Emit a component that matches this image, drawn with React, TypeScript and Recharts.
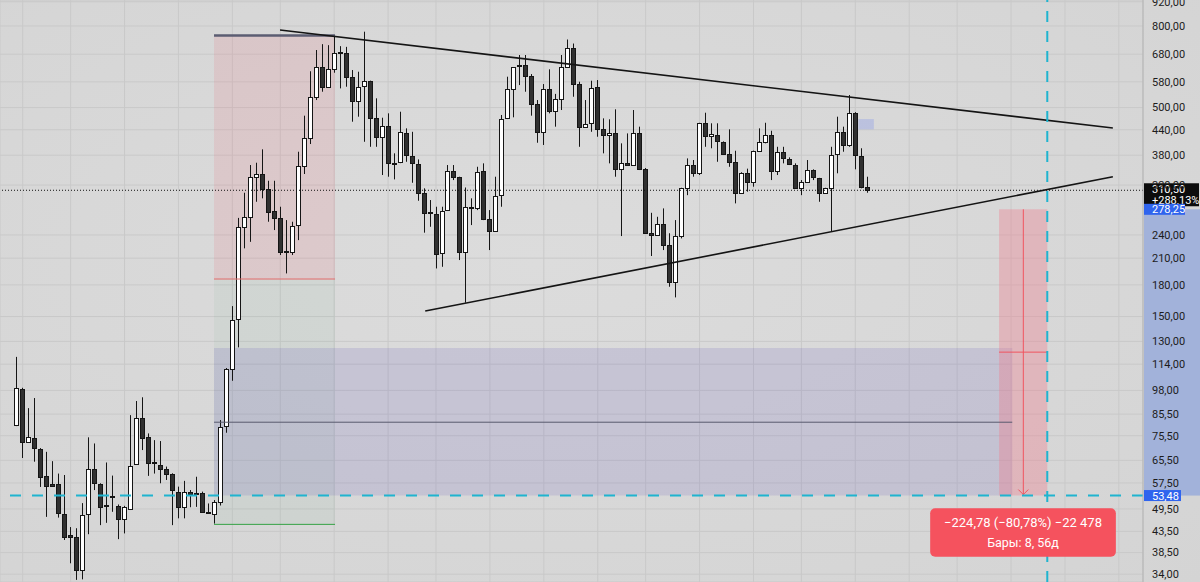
import {
  Bar,
  CartesianGrid,
  ComposedChart,
  ReferenceArea,
  ReferenceLine,
  XAxis,
  YAxis,
} from 'recharts'

// weekly candles
const opens = [
  80.3, 98.8, 73.0, 74.6, 69.9, 59.9, 57.1, 57.0, 48.1, 42.6, 42.0, 34.9, 48.1, 62.2, 57.1, 50.6, 53.2, 50.4, 46.7, 49.4,
  64.1, 83.4, 74.8, 64.8, 63.9, 62.5, 60.5, 54.7, 50.0, 54.7, 54.3, 54.2, 48.6, 48.0, 51.6, 79.8, 110.6, 147.6, 251.6, 266.5,
  335.7, 340.4, 312.2, 275.4, 265.0, 218.5, 217.8, 254.1, 357.0, 418.8, 532.2, 632.0, 563.9, 623.3, 687.0, 685.7, 597.3, 519.2, 567.6, 582.6,
  471.6, 421.3, 450.5, 363.0, 364.6, 432.4, 378.2, 360.6, 305.0, 273.5, 270.2, 216.0, 277.0, 347.5, 334.5, 217.1, 281.5, 279.7, 347.5, 262.6,
  245.9, 301.9, 469.9, 557.2, 638.0, 639.0, 600.8, 510.4, 433.4, 557.2, 491.0, 524.3, 632.0, 706.6, 572.6, 447.9, 458.8, 561.9, 441.9, 426.8,
  431.6, 350.3, 363.9, 359.1, 432.4, 351.7, 243.2, 239.9, 255.4, 226.4, 183.3, 238.9, 314.0, 359.1, 343.5, 456.7, 424.4, 426.8, 410.6, 382.6,
  365.9, 305.0, 343.5, 326.1, 389.2, 410.6, 426.8, 347.5, 387.7, 370.9, 359.1, 314.0, 326.1, 348.9, 332.5, 306.1, 314.0, 382.6, 434.9, 403.1,
  485.4, 378.2, 315.5,
]
const highs = [
  118.9, 99.5, 88.5, 93.8, 70.3, 68.8, 65.2, 60.7, 60.2, 44.6, 44.3, 51.2, 74.8, 72.2, 57.4, 64.7, 60.0, 50.8, 50.4, 85.0,
  92.2, 94.2, 76.5, 73.6, 73.2, 63.2, 60.8, 56.3, 58.2, 55.2, 59.6, 54.7, 51.1, 52.1, 82.6, 111.5, 159.3, 264.8, 306.1, 359.1,
  363.9, 393.1, 328.0, 328.0, 282.4, 261.5, 259.0, 387.7, 477.2, 616.4, 696.7, 720.5, 716.4, 759.1, 712.3, 709.4, 620.8, 614.8, 774.2, 584.0,
  527.4, 471.6, 483.7, 384.1, 488.2, 443.6, 434.9, 370.9, 314.0, 293.5, 282.4, 282.4, 359.1, 359.1, 335.7, 315.5, 296.4, 355.5, 362.6, 277.0,
  335.7, 479.1, 597.3, 631.0, 676.9, 676.9, 606.5, 522.2, 572.6, 623.3, 541.0, 676.9, 740.1, 723.2, 580.3, 522.2, 583.7, 586.0, 469.9, 467.3,
  495.0, 406.9, 430.9, 493.0, 447.9, 353.0, 272.7, 266.5, 279.7, 242.4, 261.5, 315.0, 373.1, 369.6, 458.0, 485.4, 456.7, 456.7, 411.5, 441.1,
  389.9, 344.5, 351.7, 390.2, 443.6, 458.1, 437.5, 398.9, 398.9, 375.3, 362.6, 329.3, 369.6, 350.3, 333.5, 315.0, 398.9, 474.4, 447.9, 537.5,
  487.0, 395.5, 335.7,
]
const lows = [
  79.8, 66.4, 72.8, 65.0, 56.2, 47.3, 56.4, 47.1, 41.4, 36.2, 32.9, 33.0, 42.8, 55.2, 45.1, 45.7, 48.7, 41.6, 43.0, 49.2,
  63.8, 69.5, 59.9, 60.7, 57.4, 58.5, 45.1, 46.9, 46.9, 50.0, 50.1, 48.5, 48.2, 45.5, 50.5, 76.8, 103.6, 125.6, 222.2, 230.7,
  290.6, 296.4, 259.0, 246.9, 213.8, 192.3, 213.8, 233.0, 341.0, 405.3, 522.2, 547.8, 561.0, 611.2, 558.5, 563.9, 460.9, 474.4, 410.6, 398.9,
  398.9, 339.0, 335.7, 330.6, 363.0, 365.9, 324.2, 292.3, 243.2, 251.6, 197.9, 199.8, 275.5, 329.3, 207.7, 162.4, 254.1, 277.0, 261.5, 220.0,
  245.0, 282.4, 468.0, 472.7, 569.3, 547.8, 477.2, 408.3, 403.1, 483.7, 447.9, 493.0, 630.0, 532.2, 398.9, 447.0, 434.9, 422.7, 384.1, 362.6,
  335.7, 238.5, 358.0, 358.0, 348.9, 242.4, 212.6, 239.0, 220.0, 178.1, 167.5, 235.3, 301.9, 335.7, 339.0, 398.9, 395.5, 365.9, 380.4, 355.5,
  287.9, 304.0, 308.0, 316.9, 388.0, 406.9, 329.3, 339.0, 362.6, 359.1, 313.0, 301.9, 325.0, 329.3, 290.6, 305.0, 244.6, 342.4, 387.7, 398.9,
  350.3, 314.0, 306.1,
]
const closes = [
  99.2, 72.8, 74.8, 70.2, 59.5, 56.6, 56.6, 48.3, 42.0, 42.2, 34.9, 47.8, 62.5, 57.4, 50.0, 50.4, 52.9, 46.7, 50.1, 63.5,
  83.4, 74.6, 64.4, 64.6, 62.5, 60.7, 55.2, 50.1, 54.7, 53.9, 54.1, 48.7, 48.4, 51.4, 79.5, 110.6, 147.0, 251.6, 266.5, 335.7,
  340.4, 312.2, 274.3, 265.0, 217.8, 217.5, 252.8, 357.0, 418.8, 530.4, 632.0, 563.9, 623.3, 685.7, 690.0, 597.3, 519.2, 563.9, 582.6, 471.6,
  421.3, 450.5, 362.6, 364.0, 434.9, 380.4, 362.6, 305.0, 271.8, 272.8, 215.1, 275.9, 347.5, 334.5, 217.1, 282.4, 281.0, 345.5, 262.6, 245.5,
  300.9, 467.3, 557.2, 629.9, 639.5, 600.8, 510.4, 433.4, 557.2, 491.0, 524.3, 632.0, 706.6, 572.6, 447.9, 454.9, 558.5, 441.9, 426.8, 430.9,
  350.3, 363.9, 359.1, 432.4, 351.7, 243.2, 239.9, 255.4, 226.4, 183.3, 238.9, 314.0, 359.1, 343.5, 456.7, 424.4, 429.2, 413.0, 382.6, 365.9,
  305.0, 343.5, 326.1, 389.2, 410.6, 426.8, 347.5, 387.7, 373.1, 361.2, 314.0, 326.1, 348.9, 334.5, 306.1, 314.0, 380.4, 434.9, 403.1, 485.4,
  380.4, 315.5, 310.5,
]

const priceTicks = [34, 38.5, 43.5, 49.5, 57.5, 65.5, 75.5, 85.5, 98, 114, 130, 150, 180, 210, 240, 320, 380, 440, 500, 580, 680, 800, 920]
// bar index of the vertical grid lines
const gridBars = [1, 9, 18, 27, 36, 44, 53, 62, 70, 79, 88, 97, 105, 114, 123, 131, 140, 149, 157, 166, 175, 184]

const lastPrice = 310.5
const lastChange = '+288,13%'
const measureFrom = 278.25
const measureTo = 53.48
const measureText = '−224,78 (−80,78%) −22 478'
const measureBars = 'Бары: 8, 56д'

// drawings (bar index / price)
const upperTrend = [{ x: 43.96, y: 781.8 }, { x: 183, y: 444.4 }]
const lowerTrend = [{ x: 68.2, y: 154.8 }, { x: 183, y: 335.7 }]
const shortPos = { x1: 32.94, x2: 53.14, stop: 757, entry: 186.2, target: 45.3 }
const zone = { x1: 32.94, x2: 166.2, top: 125.1, mid: 81.6 }
const measure = { x1: 164, x2: 172.05, arrow: 168.05, mark: 122.2 }
const infoBox = { x1: 152.5, x2: 183.5, y1: 37.6, y2: 49.7 }
const ghost = { x1: 140.5, x2: 143.1, y1: 441, y2: 468 }

const data = opens.map((open, i) => ({ i, open, close: closes[i], range: [lows[i], highs[i]] }))

const FONT = 'Roboto, "Liberation Sans", sans-serif'
const fmt = (v: number) => v.toFixed(2).replace('.', ',')

function Candle(props: any) {
  const { x, y, width, height, payload } = props
  if (!payload) return null
  const [low, high] = payload.range
  const top0 = Math.min(y, y + height)
  const h = Math.abs(height)
  const span = Math.log(high / low)
  const py = (v: number) => (span > 0 ? top0 + (Math.log(high / v) / span) * h : top0)
  const up = payload.close >= payload.open
  const cx = Math.round(x + width / 2) + 0.5
  const bt = Math.round(py(Math.max(payload.open, payload.close))) + 0.5
  const bb = Math.max(Math.round(py(Math.min(payload.open, payload.close))) + 0.5, bt + 1)
  return (
    <g>
      <line x1={cx} x2={cx} y1={top0} y2={top0 + h} stroke="#151515" strokeWidth={1} />
      <rect x={cx - 2} y={bt} width={4} height={bb - bt} fill={up ? '#ffffff' : '#303030'} stroke="#151515" strokeWidth={1} />
    </g>
  )
}

function AxisBand(props: any) {
  const { x, y, width, height } = props
  return <rect x={x + width + 1} y={y} width={57} height={height} fill="#a2b2da" />
}

function LastPriceTag({ viewBox }: any) {
  const x = viewBox.x + viewBox.width + 1
  const y = viewBox.y
  return (
    <g fontFamily={FONT} fontSize={11}>
      <rect x={x} y={y - 7} width={55} height={23} fill="#0c0c0c" />
      <text x={x + 8} y={y + 3} fill="#fff">{fmt(lastPrice)}</text>
      <text x={x + 8} y={y + 14} fill="#fff">{lastChange}</text>
    </g>
  )
}

function BlueTag({ viewBox, value, w }: any) {
  const x = viewBox.x + viewBox.width + 1
  const y = viewBox.y
  return (
    <g fontFamily={FONT} fontSize={11}>
      <rect x={x} y={y - 5.5} width={w} height={11} fill="#2f64ee" />
      <text x={x + 8} y={y + 4} fill="#fff">{fmt(value)}</text>
    </g>
  )
}

function InfoBox({ viewBox }: any) {
  const { x, y, width, height } = viewBox
  const cx = x + width / 2
  return (
    <g fontFamily={FONT} textAnchor="middle">
      <rect x={x} y={y} width={width} height={height} rx={5} fill="#f5525e" />
      <text x={cx} y={y + 19} fontSize={13} fill="#fff">{measureText}</text>
      <text x={cx} y={y + 39} fontSize={12.5} fill="#fff">{measureBars}</text>
    </g>
  )
}

function Arrow(props: any) {
  const { x1, y1, x2, y2 } = props
  return (
    <g stroke="#f0545f" strokeWidth={1} fill="none">
      <line x1={x1} y1={y1} x2={x2} y2={y2} />
      <polyline points={`${x2 - 5},${y2 - 6} ${x2},${y2 - 1} ${x2 + 5},${y2 - 6}`} />
    </g>
  )
}

export default function App() {
  return (
    <div style={{ width: 1200, height: 582, background: 'radial-gradient(ellipse at 45% 45%, #dcdcdc 0%, #d4d4d4 100%)' }}>
      <style>{'body{margin:0}'}</style>
      <ComposedChart width={1200} height={582} data={data} margin={{ top: 0, right: 0, bottom: 0, left: 0 }}>
        <CartesianGrid stroke="#c9c9c9" />
        <XAxis dataKey="i" type="number" domain={[-2.79, 188.03]} ticks={gridBars} allowDataOverflow hide />
        <YAxis
          orientation="right"
          width={57}
          scale="log"
          domain={[32.5, 929.3]}
          allowDataOverflow
          ticks={priceTicks}
          interval={0}
          tickFormatter={fmt}
          tickLine={false}
          tickSize={0}
          tickMargin={9}
          axisLine={{ stroke: '#b3b3b3' }}
          tick={{ fontSize: 11, fill: '#1c1c1c', fontFamily: FONT }}
        />

        <ReferenceArea x1={shortPos.x1} x2={shortPos.x2} y1={shortPos.entry} y2={shortPos.stop} fill="#eb6470" fillOpacity={0.14} />
        <ReferenceArea x1={shortPos.x1} x2={shortPos.x2} y1={shortPos.target} y2={shortPos.entry} fill="#3ca06e" fillOpacity={0.06} />
        <ReferenceArea x1={zone.x1} x2={zone.x2} y1={measureTo} y2={zone.top} fill="#6e64be" fillOpacity={0.18} />
        <ReferenceArea x1={measure.x1} x2={measure.x2} y1={measureTo} y2={measureFrom} fill="#f2788a" fillOpacity={0.35} />
        <ReferenceArea x1={ghost.x1} x2={ghost.x2} y1={ghost.y1} y2={ghost.y2} fill="#9aa6e6" fillOpacity={0.45} />
        <ReferenceArea y1={measureTo} y2={measureFrom} fill="none" shape={(p: any) => <AxisBand {...p} />} />

        <Bar dataKey="range" barSize={5} shape={(p: any) => <Candle {...p} />} isAnimationActive={false} />

        <ReferenceLine segment={[{ x: shortPos.x1, y: shortPos.stop }, { x: shortPos.x2, y: shortPos.stop }]} stroke="#5b5d72" strokeWidth={2.5} />
        <ReferenceLine segment={[{ x: shortPos.x1, y: shortPos.entry }, { x: shortPos.x2, y: shortPos.entry }]} stroke="#e36a6a" strokeWidth={1} />
        <ReferenceLine segment={[{ x: shortPos.x1, y: shortPos.target }, { x: shortPos.x2, y: shortPos.target }]} stroke="#35a245" strokeWidth={1} />
        <ReferenceLine segment={[{ x: zone.x1, y: zone.mid }, { x: zone.x2, y: zone.mid }]} stroke="#585a6e" strokeWidth={1} />
        <ReferenceLine segment={[{ x: measure.x1, y: measure.mark }, { x: measure.x2, y: measure.mark }]} stroke="#f0545f" strokeWidth={1} />
        <ReferenceLine
          segment={[{ x: measure.arrow, y: measureFrom }, { x: measure.arrow, y: measureTo }]}
          shape={(p: any) => <Arrow {...p} />}
        />
        <ReferenceLine segment={upperTrend} stroke="#141414" strokeWidth={1.6} />
        <ReferenceLine segment={lowerTrend} stroke="#141414" strokeWidth={1.6} />

        <ReferenceLine x={measure.x2} stroke="#1fb4cf" strokeWidth={2} strokeDasharray="11 9" />
        <ReferenceLine y={measureTo} stroke="#1fb4cf" strokeWidth={2} strokeDasharray="11 11" label={<BlueTag value={measureTo} w={37} />} />
        <ReferenceLine y={lastPrice} stroke="#111" strokeWidth={1} strokeDasharray="1 2" label={<LastPriceTag />} />
        <ReferenceLine y={measureFrom} stroke="none" label={<BlueTag value={measureFrom} w={41} />} />

        {/* info box of the measure tool, drawn last so it sits over the cyan line */}
        <ReferenceLine
          segment={[{ x: infoBox.x1, y: infoBox.y2 }, { x: infoBox.x2, y: infoBox.y1 }]}
          stroke="none"
          label={<InfoBox />}
        />
      </ComposedChart>
    </div>
  )
}
